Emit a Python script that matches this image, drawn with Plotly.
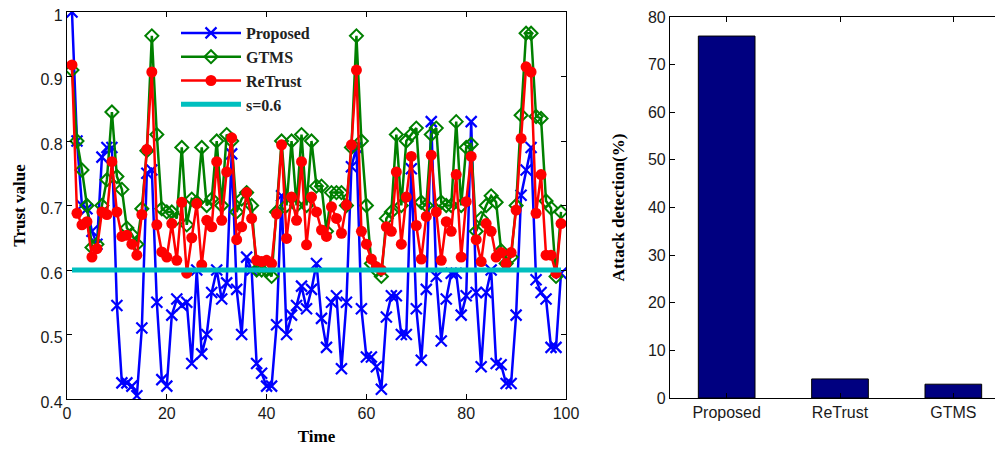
import plotly.graph_objects as go

# time axis of the trust plot
time = list(range(1, 100))

proposed = [1.00, 0.80, 0.70, 0.695, 0.66, 0.64, 0.775, 0.79, 0.79, 0.545,
            0.425, 0.425, 0.42, 0.405, 0.51, 0.75, 0.755, 0.55, 0.43, 0.42,
            0.53, 0.555, 0.545, 0.55, 0.455, 0.60, 0.47, 0.50, 0.565, 0.60,
            0.555, 0.58, 0.78, 0.57, 0.50, 0.62, 0.60, 0.455, 0.44, 0.42,
            0.42, 0.515, 0.715, 0.50, 0.53, 0.545, 0.575, 0.54, 0.57, 0.61,
            0.525, 0.48, 0.55, 0.56, 0.447, 0.55, 0.76, 0.79, 0.54, 0.465,
            0.465, 0.45, 0.415, 0.527, 0.56, 0.56, 0.50, 0.50, 0.757, 0.54,
            0.46, 0.57, 0.83, 0.59, 0.49, 0.555, 0.595, 0.595, 0.53, 0.56,
            0.83, 0.565, 0.45, 0.565, 0.60, 0.455, 0.453, 0.424, 0.424, 0.53,
            0.716, 0.755, 0.79, 0.585, 0.565, 0.555, 0.48, 0.48, 0.595]

gtms = [0.91, 0.80, 0.755, 0.70, 0.635, 0.64, 0.70, 0.74, 0.845, 0.745,
        0.725, 0.665, 0.655, 0.64, 0.695, 0.785, 0.963, 0.81, 0.695, 0.69,
        0.69, 0.68, 0.79, 0.67, 0.71, 0.705, 0.79, 0.70, 0.71, 0.80,
        0.70, 0.81, 0.80, 0.69, 0.71, 0.72, 0.70, 0.60, 0.60, 0.60,
        0.59, 0.69, 0.80, 0.70, 0.80, 0.70, 0.81, 0.70, 0.80, 0.73,
        0.73, 0.66, 0.72, 0.72, 0.72, 0.70, 0.79, 0.963, 0.80, 0.70,
        0.61, 0.60, 0.59, 0.68, 0.69, 0.81, 0.70, 0.80, 0.81, 0.82,
        0.705, 0.70, 0.81, 0.82, 0.705, 0.70, 0.70, 0.83, 0.70, 0.79,
        0.795, 0.66, 0.68, 0.70, 0.715, 0.705, 0.63, 0.61, 0.62, 0.70,
        0.84, 0.967, 0.967, 0.838, 0.835, 0.707, 0.696, 0.59, 0.69]

retrust = [0.918, 0.688, 0.67, 0.675, 0.62, 0.633, 0.69, 0.686, 0.768, 0.69,
           0.652, 0.654, 0.64, 0.623, 0.686, 0.787, 0.907, 0.67, 0.628, 0.62,
           0.672, 0.615, 0.705, 0.595, 0.65, 0.703, 0.608, 0.677, 0.667, 0.768,
           0.677, 0.752, 0.805, 0.647, 0.667, 0.72, 0.68, 0.615, 0.613, 0.615,
           0.61, 0.687, 0.794, 0.649, 0.713, 0.677, 0.768, 0.639, 0.713, 0.69,
           0.662, 0.652, 0.698, 0.68, 0.657, 0.701, 0.794, 0.91, 0.66, 0.64,
           0.617, 0.605, 0.60, 0.667, 0.66, 0.752, 0.64, 0.713, 0.776, 0.669,
           0.617, 0.683, 0.778, 0.69, 0.615, 0.675, 0.66, 0.748, 0.62, 0.706,
           0.776, 0.647, 0.613, 0.672, 0.66, 0.62, 0.627, 0.61, 0.627, 0.693,
           0.804, 0.915, 0.907, 0.688, 0.748, 0.623, 0.623, 0.595, 0.672]

threshold = 0.6

# attack detection bars
methods = ["Proposed", "ReTrust", "GTMS"]
detection = [76, 4, 2.9]

W, H = 1003, 450
OFF = 8  # default page margin shifts the figure
serif = "Liberation Serif, Times New Roman, serif"
sans = "Liberation Sans, Arial, sans-serif"


def px_x(p):
    return (p - OFF) / W


def px_y(p):
    return 1 - (p - OFF) / H


fig = go.Figure()

fig.add_trace(go.Scatter(x=time, y=proposed, name="Proposed", mode="lines+markers",
                         line=dict(color="#0000ff", width=2.5),
                         marker=dict(symbol="x-thin", size=11, line=dict(color="#0000ff", width=2.2)),
                         xaxis="x", yaxis="y"))
fig.add_trace(go.Scatter(x=time, y=gtms, name="GTMS", mode="lines+markers",
                         line=dict(color="#008000", width=2.5),
                         marker=dict(symbol="diamond-open", size=10, color="#008000", line=dict(width=2)),
                         xaxis="x", yaxis="y"))
fig.add_trace(go.Scatter(x=time, y=retrust, name="ReTrust", mode="lines+markers",
                         line=dict(color="#ff0000", width=2.5),
                         marker=dict(symbol="circle", size=11, color="#ff0000"),
                         xaxis="x", yaxis="y"))
fig.add_trace(go.Scatter(x=[time[0], time[-1]], y=[threshold, threshold], name="s=0.6", mode="lines",
                         line=dict(color="#00bfbf", width=5),
                         xaxis="x", yaxis="y"))

fig.add_trace(go.Bar(x=[1, 2, 3], y=detection, width=0.5, showlegend=False,
                     marker=dict(color="#000080", line=dict(color="#000000", width=1)),
                     xaxis="x2", yaxis="y2"))

axis_common = dict(showline=True, linecolor="black", linewidth=1.2, mirror="ticks",
                   ticks="inside", ticklen=5, tickcolor="black", showgrid=False,
                   zeroline=False, automargin=False, ticklabeloverflow="allow",
                   tickfont=dict(family=sans, size=16, color="#1a1a1a"))
title_font = dict(family=serif, size=17, color="black")

fig.update_layout(
    width=W, height=H,
    margin=dict(l=0, r=0, t=0, b=0, autoexpand=False),
    paper_bgcolor="white", plot_bgcolor="white",
    xaxis=dict(domain=[px_x(67), px_x(566)], range=[0, 100], tickvals=[0, 20, 40, 60, 80, 100],
               title=dict(text="<b>Time</b>", font=title_font, standoff=8),
               anchor="y", **axis_common),
    yaxis=dict(domain=[px_y(399), px_y(12)], range=[0.4, 1.0], tickvals=[0.4, 0.5, 0.6, 0.7, 0.8, 0.9, 1],
               ticktext=["0.4", "0.5", "0.6", "0.7", "0.8", "0.9", "1"], ticklabelshift=3,
               title=dict(text="<b>Trust value</b>", font=title_font, standoff=10),
               anchor="x", **axis_common),
    xaxis2=dict(domain=[px_x(670), px_x(1010)], range=[0.5, 3.5], tickvals=[1, 2, 3], ticktext=methods,
                anchor="y2", **axis_common),
    yaxis2=dict(domain=[px_y(398), px_y(17)], range=[0, 80], tickvals=list(range(0, 81, 10)),
                title=dict(text="<b>Attack detection(%)</b>", font=title_font, standoff=18),
                anchor="x2", **axis_common),
    legend=dict(x=px_x(176), y=px_y(16), xanchor="left", yanchor="top",
                bgcolor="rgba(0,0,0,0)", borderwidth=0,
                font=dict(family=serif, size=16, color="#222222", weight="bold"),
                tracegroupgap=0, itemwidth=60),
    showlegend=True,
)

fig.write_html("out.html")
